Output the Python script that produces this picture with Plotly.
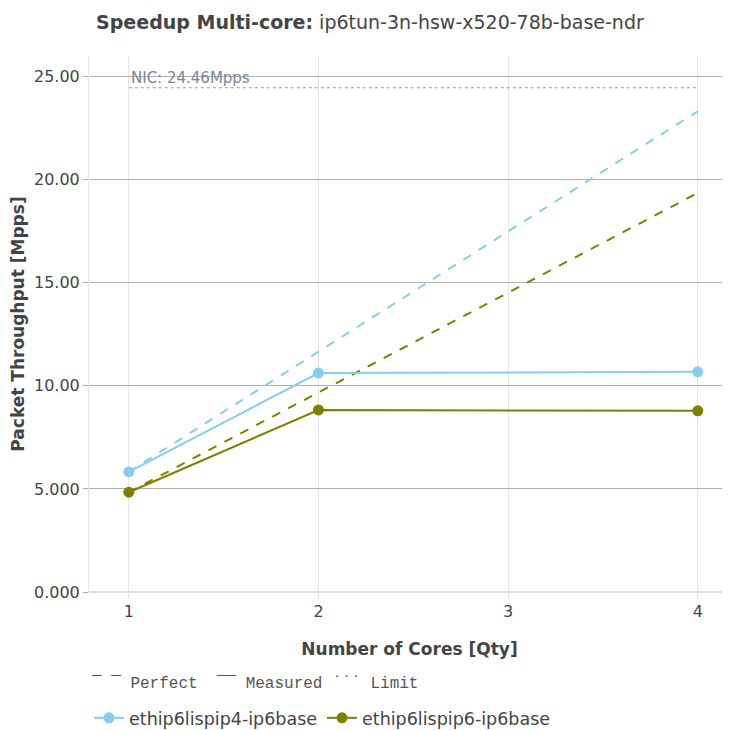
import plotly.graph_objects as go

cores = [1, 2, 4]
tests = ["ethip6lispip4-ip6base", "ethip6lispip6-ip6base"]
measured = {
    "ethip6lispip4-ip6base": [5.83, 10.62, 10.68],
    "ethip6lispip6-ip6base": [4.84, 8.83, 8.79],
}
colors = {"ethip6lispip4-ip6base": "#87CEEB", "ethip6lispip6-ip6base": "#808000"}
nic_limit = 24.46
y_ticks = [0, 5, 10, 15, 20, 25]

fig = go.Figure()

# Limit line
fig.add_trace(go.Scatter(
    x=[cores[0], cores[-1]], y=[nic_limit, nic_limit], mode="lines",
    line=dict(color="#8a9bb0", width=1, dash="dot"), showlegend=False, hoverinfo="skip"))

for t in tests:
    base = measured[t][0]
    perfect = [base * c for c in cores]
    fig.add_trace(go.Scatter(
        x=cores, y=perfect, mode="lines",
        line=dict(color=colors[t], width=2, dash="dash"), showlegend=False))
for t in tests:
    fig.add_trace(go.Scatter(
        x=cores, y=measured[t], mode="lines+markers", name=t,
        line=dict(color=colors[t], width=2), marker=dict(size=11, color=colors[t])))

fig.add_annotation(x=cores[0], y=nic_limit, xref="x", yref="y", text="NIC: 24.46Mpps",
                   showarrow=False, xanchor="left", yanchor="bottom", yshift=-1,
                   font=dict(family="DejaVu Sans", size=15, color="#778899"))

fig.add_annotation(x=0, y=-0.172, xref="paper", yref="paper", xanchor="left", yanchor="middle",
                   showarrow=False,
                   text="¯ ¯ Perfect  ¯¯ Measured ˙˙˙ Limit",
                   font=dict(family="Liberation Mono", size=16, color="#555"))

fig.update_layout(
    width=722, height=722,
    paper_bgcolor="white", plot_bgcolor="white",
    margin=dict(l=81, r=0, t=48, b=138, autoexpand=False),
    font=dict(family="DejaVu Sans", size=16, color="#444"),
    title=dict(text="<b>Speedup Multi-core:</b> ip6tun-3n-hsw-x520-78b-base-ndr",
               x=0.122, xanchor="left", y=0.98, yanchor="middle",
               font=dict(size=19, color="#444")),
    xaxis=dict(title=dict(text="<b>Number of Cores [Qty]</b>", font=dict(size=17), standoff=22),
               range=[0.79, 4.17], tickvals=[1, 2, 3, 4], showgrid=True,
               gridcolor="#e6e6e6", zeroline=False, showline=False,
               ticks="outside", tickcolor="#ddd", ticklen=5,
               tickfont=dict(size=16), automargin=False),
    yaxis=dict(title=dict(text="<b>Packet Throughput [Mpps]</b>", font=dict(size=17)),
               range=[0, 26], tickvals=y_ticks, tickformat=".4r", showgrid=True,
               gridcolor="#b0b0b0", zeroline=True, zerolinecolor="#dddddd",
               showline=True, linecolor="#e6e6e6",
               ticks="outside", tickcolor="#aaa", ticklen=5,
               tickfont=dict(size=16), automargin=False),
    legend=dict(orientation="h", x=0, xanchor="left", y=-0.235, yanchor="middle",
                font=dict(size=17.5, color="#444"), traceorder="normal"),
)

fig.write_html("out.html")
